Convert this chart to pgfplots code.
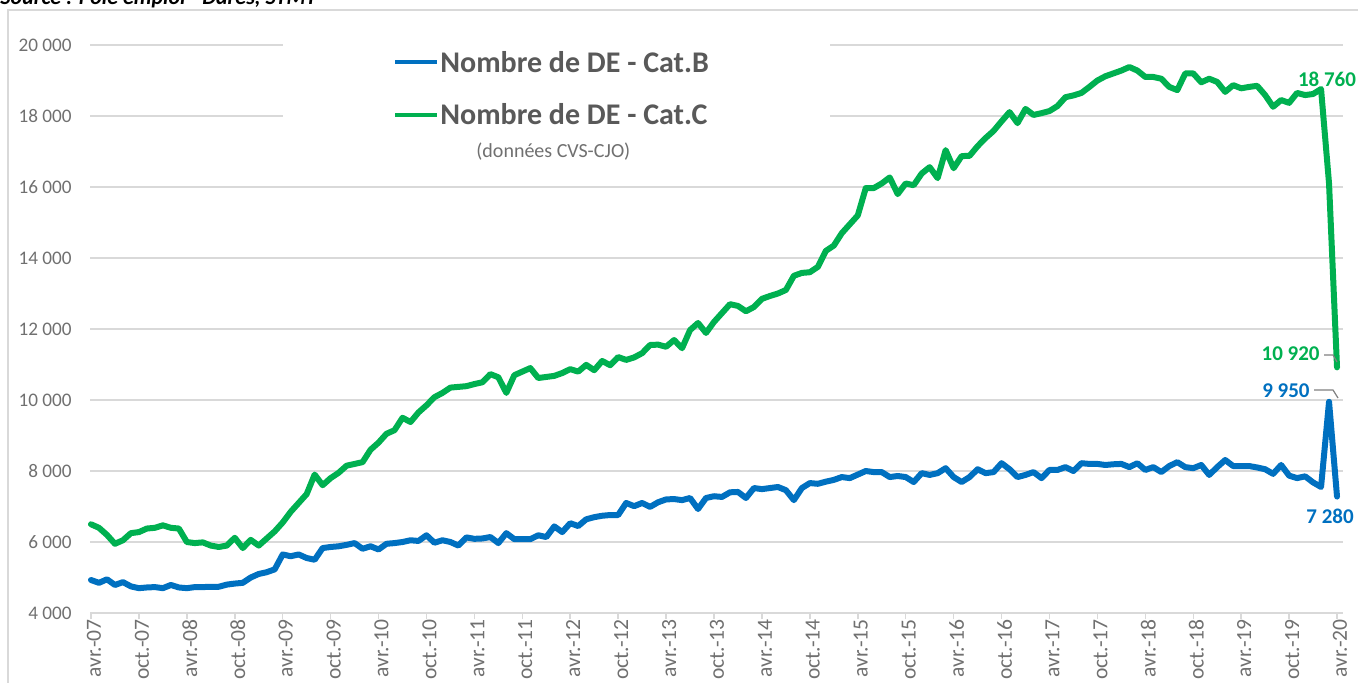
\documentclass[border=0pt]{standalone}
\usepackage{pgfplots}
\usepackage{pgfplotstable}
\pgfplotsset{compat=1.18}
\usepackage{fontspec}
\setmainfont{Carlito}
\definecolor{cB}{HTML}{0070C0}
\definecolor{cC}{HTML}{00B050}
\definecolor{gridc}{HTML}{D9D9D9}
\definecolor{tickc}{HTML}{707070}
\definecolor{legc}{HTML}{595959}

\pgfplotstableread{
m v
0 6500
1 6400
2 6200
3 5950
4 6050
5 6250
6 6280
7 6380
8 6400
9 6470
10 6400
11 6380
12 6000
13 5970
14 5990
15 5900
16 5860
17 5900
18 6120
19 5830
20 6060
21 5900
22 6100
23 6300
24 6550
25 6850
26 7100
27 7350
28 7900
29 7600
30 7800
31 7950
32 8150
33 8200
34 8250
35 8600
36 8800
37 9050
38 9150
39 9500
40 9380
41 9650
42 9850
43 10080
44 10200
45 10350
46 10370
47 10390
48 10450
49 10500
50 10730
51 10640
52 10200
53 10700
54 10800
55 10900
56 10620
57 10650
58 10680
59 10760
60 10870
61 10800
62 10990
63 10840
64 11100
65 10980
66 11210
67 11130
68 11200
69 11320
70 11550
71 11560
72 11500
73 11690
74 11460
75 11970
76 12170
77 11890
78 12200
79 12450
80 12700
81 12650
82 12500
83 12620
84 12850
85 12930
86 13000
87 13100
88 13500
89 13580
90 13600
91 13750
92 14200
93 14350
94 14700
95 14950
96 15200
97 15970
98 15970
99 16100
100 16270
101 15800
102 16100
103 16050
104 16380
105 16560
106 16250
107 17040
108 16530
109 16870
110 16880
111 17150
112 17380
113 17580
114 17850
115 18110
116 17800
117 18200
118 18030
119 18080
120 18140
121 18280
122 18530
123 18580
124 18650
125 18820
126 19000
127 19120
128 19200
129 19280
130 19380
131 19280
132 19100
133 19100
134 19050
135 18820
136 18730
137 19200
138 19200
139 18950
140 19050
141 18960
142 18680
143 18870
144 18780
145 18820
146 18850
147 18590
148 18260
149 18450
150 18370
151 18650
152 18590
153 18620
154 18760
155 16100
156 10920
}\catC

\pgfplotstableread{
m v
0 4930
1 4850
2 4950
3 4790
4 4870
5 4750
6 4700
7 4720
8 4730
9 4700
10 4790
11 4720
12 4700
13 4730
14 4730
15 4740
16 4740
17 4800
18 4830
19 4850
20 5000
21 5100
22 5150
23 5230
24 5650
25 5600
26 5650
27 5550
28 5500
29 5830
30 5860
31 5880
32 5920
33 5970
34 5810
35 5880
36 5790
37 5950
38 5970
39 6000
40 6050
41 6030
42 6190
43 5980
44 6050
45 6000
46 5900
47 6130
48 6090
49 6100
50 6140
51 5970
52 6250
53 6080
54 6080
55 6080
56 6190
57 6140
58 6440
59 6280
60 6530
61 6450
62 6640
63 6700
64 6740
65 6760
66 6760
67 7100
68 7010
69 7100
70 6990
71 7120
72 7200
73 7210
74 7180
75 7240
76 6930
77 7240
78 7290
79 7270
80 7400
81 7410
82 7240
83 7520
84 7490
85 7520
86 7550
87 7460
88 7180
89 7520
90 7660
91 7640
92 7700
93 7750
94 7830
95 7800
96 7900
97 8000
98 7970
99 7970
100 7830
101 7860
102 7830
103 7690
104 7940
105 7890
106 7940
107 8080
108 7830
109 7690
110 7830
111 8050
112 7940
113 7970
114 8220
115 8050
116 7830
117 7890
118 7970
119 7800
120 8030
121 8030
122 8110
123 8000
124 8220
125 8200
126 8200
127 8170
128 8190
129 8200
130 8110
131 8220
132 8030
133 8110
134 7970
135 8140
136 8250
137 8110
138 8080
139 8170
140 7890
141 8110
142 8310
143 8140
144 8140
145 8140
146 8100
147 8050
148 7920
149 8170
150 7870
151 7800
152 7850
153 7680
154 7550
155 9950
156 7280
}\catB

\begin{document}
\begin{tikzpicture}
\path[use as bounding box] (0pt,0pt) rectangle (679pt,-341pt);
\draw[gridc, line width=0.6pt] (4pt,-400pt) -- (4pt,-5pt) -- (700pt,-5pt);
\node[anchor=base west, inner sep=0pt, font=\fontsize{11}{13}\selectfont\bfseries\itshape] at (0pt,-2pt) {Source : Pôle emploi - Dares, STMT};
\begin{axis}[
  at={(45pt,-306.5pt)}, anchor=south west,
  scale only axis, width=626.5pt, height=284pt,
  xmin=-0.125, xmax=156.75, ymin=4000, ymax=20000,
  clip=false, scaled y ticks=false, scaled x ticks=false,
  axis x line*=bottom, axis y line*=left,
  y axis line style={draw=none},
  x axis line style={draw=gridc, line width=0.75pt},
  ytick={4000,6000,...,20000},
  yticklabels={4 000,6 000,8 000,10 000,12 000,14 000,16 000,18 000,20 000},
  ymajorgrids, grid style={draw=gridc, line width=0.75pt},
  ytick style={draw=none},
  xtick={0,6,...,156},
  xticklabels={avr.-07,oct.-07,avr.-08,oct.-08,avr.-09,oct.-09,avr.-10,oct.-10,avr.-11,oct.-11,avr.-12,oct.-12,avr.-13,oct.-13,avr.-14,oct.-14,avr.-15,oct.-15,avr.-16,oct.-16,avr.-17,oct.-17,avr.-18,oct.-18,avr.-19,oct.-19,avr.-20},
  x tick style={draw=gridc, line width=0.75pt},
  tick align=outside, major tick length=3pt,
  yticklabel style={font=\fontsize{9.6}{11}\selectfont, text=tickc, anchor=east, inner sep=0pt, xshift=-6pt},
  xticklabel style={font=\fontsize{10.8}{12}\selectfont, text=tickc, rotate=90, anchor=east, inner sep=0pt, yshift=-1.5pt},
]
\addplot[cC, line width=3pt, line join=round, line cap=round] table[x=m,y=v]{\catC};
\addplot[cB, line width=3pt, line join=round, line cap=round] table[x=m,y=v]{\catB};
\end{axis}
\begin{scope}[x=0.5pt, y=-0.5pt]
  % legend box covering grid lines
  \fill[white] (283,30) rectangle (830,172);
  \draw[cB, line width=2pt] (395,62) -- (437,62);
  \draw[cC, line width=2pt] (395,115) -- (437,115);
  \node[anchor=base west, inner sep=0pt, text=legc, font=\fontsize{15}{17}\selectfont\bfseries] at (440,72) {Nombre de DE - Cat.B};
  \node[anchor=base west, inner sep=0pt, text=legc, font=\fontsize{15}{17}\selectfont\bfseries] at (440,124) {Nombre de DE - Cat.C};
  \node[anchor=base west, inner sep=0pt, text=tickc, font=\fontsize{10}{12}\selectfont] at (476,157) {(données CVS-CJO)};
  % data labels
  \node[anchor=base, inner sep=0pt, text=cC, font=\fontsize{10.5}{12}\selectfont\bfseries] at (1327,86) {18 760};
  \node[anchor=base east, inner sep=0pt, text=cC, font=\fontsize{10.5}{12}\selectfont\bfseries] at (1320,360) {10 920};
  \node[anchor=base east, inner sep=0pt, text=cB, font=\fontsize{10.5}{12}\selectfont\bfseries] at (1310,397) {9 950};
  \node[anchor=base, inner sep=0pt, text=cB, font=\fontsize{10.5}{12}\selectfont\bfseries] at (1330,523) {7 280};
  \draw[gray, line width=0.6pt] (1324,355) -- (1333,355) -- (1337,362);
  \draw[gray, line width=0.6pt] (1314,390) -- (1333,390) -- (1338,398);
\end{scope}
\end{tikzpicture}
\end{document}
